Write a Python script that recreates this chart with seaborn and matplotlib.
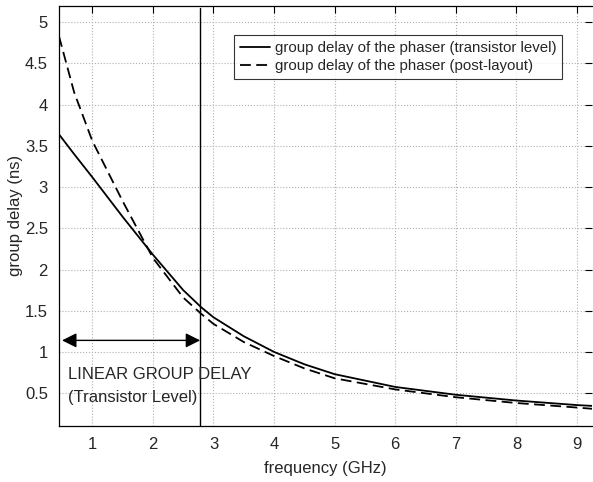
import matplotlib
matplotlib.use("Agg")
import matplotlib.pyplot as plt
import seaborn as sns
import pandas as pd
from matplotlib.lines import Line2D

sns.set_theme(style="white")
plt.rcParams['font.family'] = ['Liberation Sans', 'DejaVu Sans']

freq = [0.45, 0.7, 1.0, 1.5, 2.0, 2.5, 2.8, 3.0, 3.5, 4.0, 4.5, 5.0, 6.0, 7.0, 8.0, 9.0, 9.25]
delay_transistor = [3.64, 3.40, 3.12, 2.64, 2.18, 1.75, 1.54, 1.42, 1.19, 1.00, 0.85, 0.73, 0.575, 0.48, 0.41, 0.355, 0.345]
delay_postlayout = [4.83, 4.15, 3.56, 2.83, 2.14, 1.66, 1.46, 1.34, 1.12, 0.95, 0.80, 0.68, 0.545, 0.45, 0.38, 0.325, 0.31]
series_names = ["group delay of the phaser (transistor level)",
                "group delay of the phaser (post-layout)"]
linear_limit = 2.78
arrow_start = 0.5
arrow_y = 1.14
xticks = [1, 2, 3, 4, 5, 6, 7, 8, 9]
yticks = [0.5, 1, 1.5, 2, 2.5, 3, 3.5, 4, 4.5, 5]

df = pd.DataFrame({
    "freq": freq * 2,
    "delay": delay_transistor + delay_postlayout,
    "series": [series_names[0]] * len(freq) + [series_names[1]] * len(freq),
})

fig = plt.figure(figsize=(5.93, 4.82), dpi=100)
ax = fig.add_axes([0.0995, 0.116, 0.899, 0.872])

sns.lineplot(data=df, x="freq", y="delay", hue="series", style="series",
             palette=["black", "black"], dashes=[(1, 0), (6, 3)],
             linewidth=1.3, ax=ax, legend=False, estimator=None, sort=False)

handles = [Line2D([], [], color="black", lw=1.3, ls="-"),
           Line2D([], [], color="black", lw=1.3, dashes=(6, 3))]
leg = ax.legend(handles, series_names, loc="upper right",
                bbox_to_anchor=(0.944, 0.931), fontsize=10.8,
                frameon=True, fancybox=False, edgecolor="black",
                handlelength=2.0, handletextpad=0.3, borderpad=0.4,
                labelspacing=0.3, borderaxespad=0)
leg.get_frame().set_linewidth(0.8)

ax.plot([linear_limit, linear_limit], [0.1, 5.17], color="black", lw=1.0)
ax.annotate("", xy=(arrow_start, arrow_y), xytext=(linear_limit, arrow_y),
            arrowprops=dict(arrowstyle="<|-|>", color="black", lw=1.0,
                            mutation_scale=22, shrinkA=0, shrinkB=0))
ax.text(0.6, 0.72, "LINEAR GROUP DELAY", fontsize=12, va="center", ha="left")
ax.text(0.6, 0.45, "(Transistor Level)", fontsize=12, va="center", ha="left")

ax.set_xlim(0.45, 9.25)
ax.set_ylim(0.1, 5.2)
ax.set_xticks(xticks)
ax.set_yticks(yticks)
ax.set_xticklabels([str(t) for t in xticks])
ax.set_yticklabels([f"{t:g}" for t in yticks])
ax.tick_params(direction="in", length=5, width=0.8, top=True, right=True,
               labelsize=12, color="black", pad=8)
ax.grid(True, color="#b0b0b0", linestyle=":", linewidth=0.8)
for s in ax.spines.values():
    s.set_color("black")
    s.set_linewidth(0.9)
ax.spines["right"].set_visible(False)
ax.set_xlabel("frequency (GHz)", fontsize=12, labelpad=6)
ax.set_ylabel("group delay (ns)", fontsize=12, labelpad=1)

fig.savefig("out.png", dpi=100)
